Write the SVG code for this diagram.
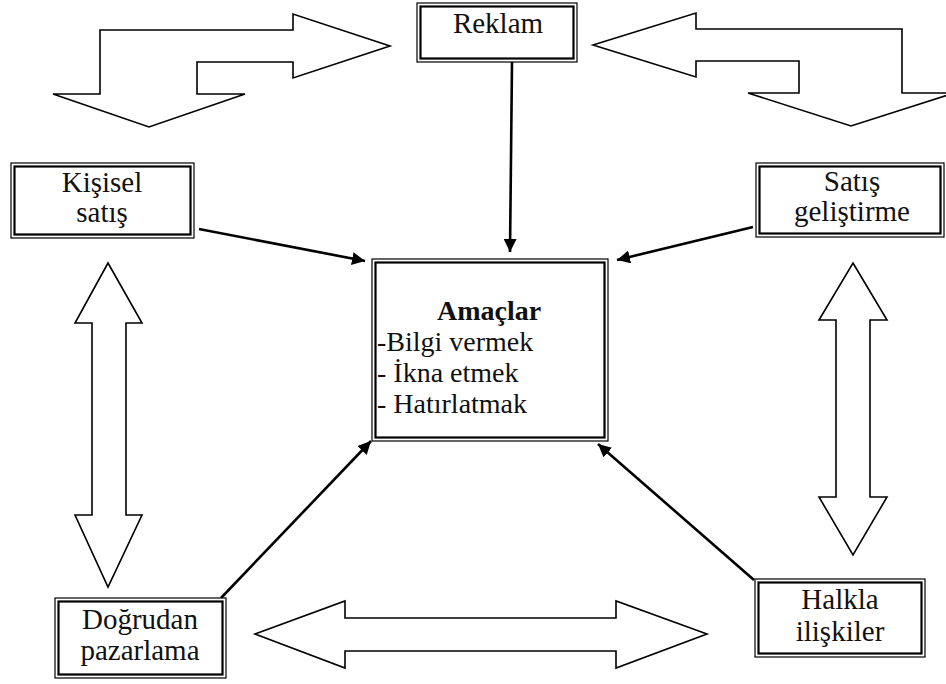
<svg xmlns="http://www.w3.org/2000/svg" width="946" height="684" viewBox="0 0 946 684">
  <defs>
    <style>
      .bg { fill: #ffffff; }
      .outer { fill: #ffffff; stroke: #000000; stroke-width: 1.2; }
      .inner { fill: none; stroke: #000000; stroke-width: 2.2; }
      text { font-family: 'Liberation Serif', 'Times New Roman', 'DejaVu Serif', serif; fill: #111111; }
      .label { font-size: 29px; text-anchor: middle; }
      .body { font-size: 28px; }
      .title { font-weight: bold; text-anchor: middle; }
      .block { fill: #ffffff; stroke: #000000; stroke-width: 1.6; stroke-linejoin: miter; }
      .link { fill: none; stroke: #000000; stroke-width: 2.6; }
    </style>
    <marker id="head" viewBox="0 0 10 10" refX="10" refY="5" markerWidth="5" markerHeight="5" markerUnits="strokeWidth" orient="auto">
      <path d="M0,0 L10,5 L0,10 z" fill="#000000"/>
    </marker>
  </defs>

  <rect class="bg" x="0" y="0" width="946" height="684"/>

  <!-- block arrows -->
  <g id="block-arrows">
    <path class="block" d="M100,30 L293,30 L293,14 L390,46 L293,78 L293,62 L197,62 L197,94 L245,94 L149,127 L53,94 L100,94 Z"/>
    <path class="block" d="M902,29 L696,29 L696,13 L593,45 L696,77 L696,61 L799,61 L799,93 L748,93 L851,126 L954,93 L902,93 Z"/>
    <path class="block" d="M108,263 L142,323 L126,323 L126,515 L142,515 L108,587 L75,515 L92,515 L92,323 L75,323 Z"/>
    <path class="block" d="M853,263 L887,320 L870,320 L870,497 L887,497 L853,555 L819,497 L836,497 L836,320 L819,320 Z"/>
    <path class="block" d="M255,634 L345,601 L345,618 L616,618 L616,601 L707,634 L616,668 L616,651 L345,651 L345,668 Z"/>
  </g>

  <!-- connectors -->
  <g id="connectors">
    <line class="link" x1="512" y1="62" x2="510" y2="252" marker-end="url(#head)"/>
    <line class="link" x1="199" y1="229" x2="365" y2="261" marker-end="url(#head)"/>
    <line class="link" x1="753" y1="227" x2="617" y2="260" marker-end="url(#head)"/>
    <line class="link" x1="221" y1="598" x2="371" y2="441" marker-end="url(#head)"/>
    <line class="link" x1="754" y1="580" x2="598" y2="444" marker-end="url(#head)"/>
  </g>

  <!-- nodes -->
  <g id="reklam">
    <rect class="outer" x="417" y="3" width="160" height="59"/>
    <rect class="inner" x="420.5" y="6.5" width="153" height="52"/>
    <text class="label" x="498" y="33" font-family="'Liberation Serif', serif">Reklam</text>
  </g>

  <g id="kisisel-satis" font-family="'Liberation Serif', serif">
    <rect class="outer" x="11" y="163" width="183" height="75"/>
    <rect class="inner" x="14.5" y="166.5" width="176" height="68"/>
    <text class="label" x="102" y="192">Kişisel</text>
    <text class="label" x="102" y="222">satış</text>
  </g>

  <g id="satis-gelistirme">
    <rect class="outer" x="756" y="163" width="188" height="74"/>
    <rect class="inner" x="759.5" y="166.5" width="181" height="67"/>
    <text class="label" x="852" y="191">Satış</text>
    <text class="label" x="852" y="221">geliştirme</text>
  </g>

  <g id="amaclar">
    <rect class="outer" x="372" y="259" width="236" height="182"/>
    <rect class="inner" x="375.5" y="262.5" width="229" height="175"/>
    <text class="body title" x="489" y="320">Amaçlar</text>
    <text class="body" x="377" y="351">-Bilgi vermek</text>
    <text class="body" x="377" y="382">- İkna etmek</text>
    <text class="body" x="377" y="413">- Hatırlatmak</text>
  </g>

  <g id="dogrudan-pazarlama">
    <rect class="outer" x="55" y="598" width="171" height="80"/>
    <rect class="inner" x="58.5" y="601.5" width="164" height="73"/>
    <text class="label" x="140" y="629">Doğrudan</text>
    <text class="label" x="140" y="660">pazarlama</text>
  </g>

  <g id="halkla-iliskiler">
    <rect class="outer" x="755" y="579" width="170" height="78"/>
    <rect class="inner" x="758.5" y="582.5" width="163" height="71"/>
    <text class="label" x="840" y="609">Halkla</text>
    <text class="label" x="840" y="641">ilişkiler</text>
  </g>
</svg>
